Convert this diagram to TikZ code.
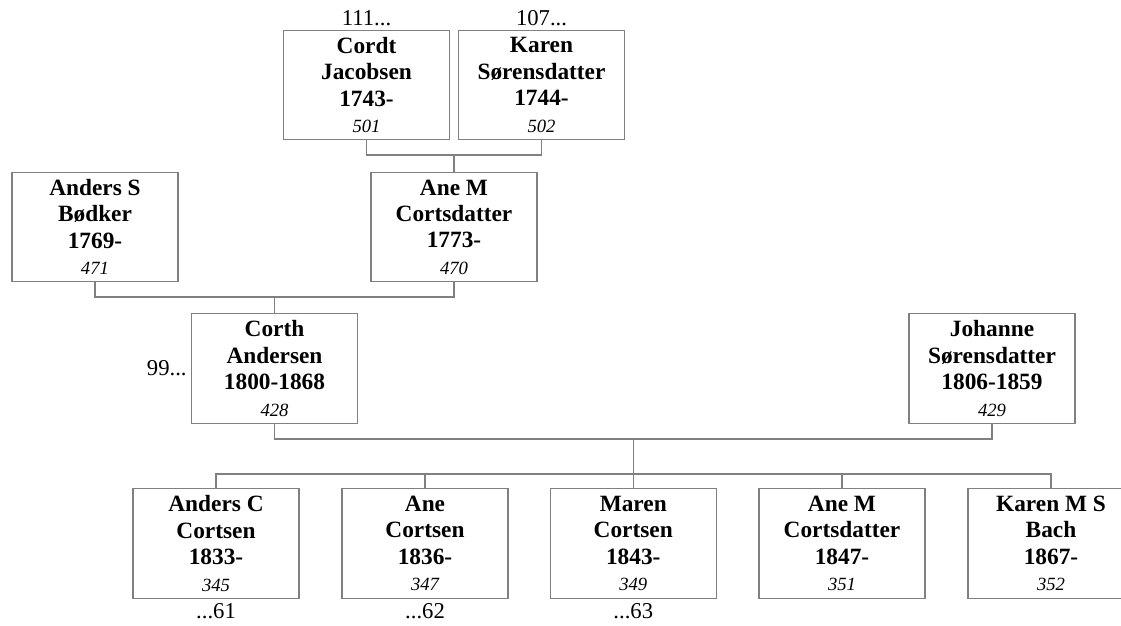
\documentclass[tikz,border=0pt]{standalone}
\usepackage{fontspec}
\setmainfont{Liberation Serif}
\definecolor{linegray}{RGB}{128,128,128}
\newcommand{\idno}[1]{{\fontsize{14}{19.8}\selectfont\mdseries\itshape #1}}

\begin{document}
\begin{tikzpicture}[x=0.75pt,y=-0.75pt,
        person/.style={draw=linegray,line width=0.9pt,minimum width=124.5pt,
            minimum height=82pt,inner sep=0pt,align=center,
            font=\fontsize{17.5}{19.8}\selectfont\bfseries},
        link/.style={draw=linegray,line width=0.9pt},
        more/.style={font=\fontsize{17}{20}\selectfont,inner sep=3pt}]

        \useasboundingbox (0,0) rectangle (1121,625);

        \node[person] (cordt) at (366.5,85) {Cordt\\Jacobsen\\1743-\\\idno{501}};
        \node[person] (karen) at (541.5,85) {Karen\\Sørensdatter\\1744-\\\idno{502}};
        \node[person] (anders) at (95,227) {Anders S\\Bødker\\1769-\\\idno{471}};
        \node[person] (anem) at (454,227) {Ane M\\Cortsdatter\\1773-\\\idno{470}};
        \node[person] (corth) at (274.5,368.5) {Corth\\Andersen\\1800-1868\\\idno{428}};
        \node[person] (johanne) at (992,368.5) {Johanne\\Sørensdatter\\1806-1859\\\idno{429}};

        \node[person] (andersc) at (216,543.5) {Anders C\\Cortsen\\1833-\\\idno{345}};
        \node[person] (ane) at (425,543.5) {Ane\\Cortsen\\1836-\\\idno{347}};
        \node[person] (maren) at (633.25,543.5) {Maren\\Cortsen\\1843-\\\idno{349}};
        \node[person] (anemc) at (842,543.5) {Ane M\\Cortsdatter\\1847-\\\idno{351}};
        \node[person] (karenm) at (1051,543.5) {Karen M S\\Bach\\1867-\\\idno{352}};

        \node[more,anchor=south] (cordtup) at (cordt.north) {111...};
        \node[more,anchor=south] (karenup) at (karen.north) {107...};
        \node[more,anchor=east] (corthup) at (corth.west) {99...};
        \node[more,anchor=north] (anderscdown) at (andersc.south) {...61};
        \node[more,anchor=north] (anedown) at (ane.south) {...62};
        \node[more,anchor=north] (marendown) at (maren.south) {...63};

        \coordinate (top) at (454,155);
        \coordinate (mid) at (274.5,297);
        \coordinate (low) at (633.25,439);
        \coordinate (sib) at (633.25,474);

        \draw[link] (cordt.south) |- (top) -| (karen.south);
        \draw[link] (top) -- (anem.north);
        \draw[link] (anders.south) |- (mid) -| (anem.south);
        \draw[link] (mid) -- (corth.north);
        \draw[link] (corth.south) |- (low) -| (johanne.south);
        \draw[link] (low) -- (maren.north);
        \draw[link] (andersc.north) |- (sib) -| (karenm.north);
        \draw[link] (ane.north) -- (ane.north |- sib);
        \draw[link] (anemc.north) -- (anemc.north |- sib);
    \end{tikzpicture}
\end{document}
